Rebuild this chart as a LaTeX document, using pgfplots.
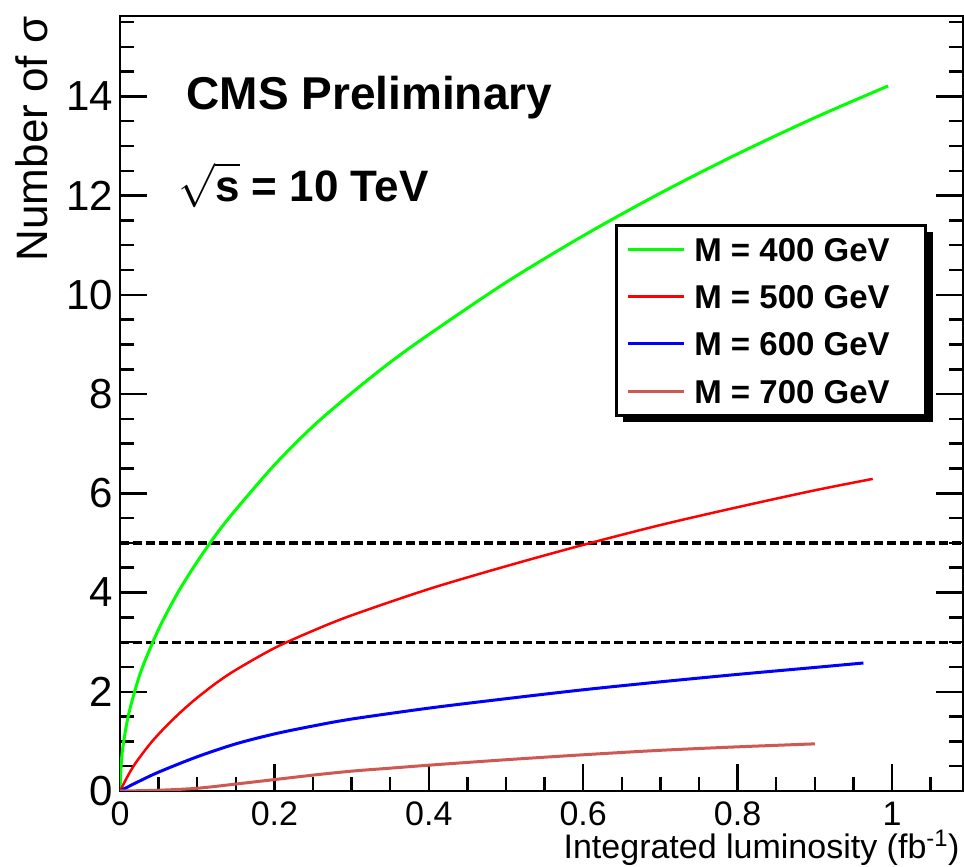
\RequirePackage{fix-cm}
\documentclass[border=0pt]{standalone}
\usepackage{fontspec}
\setmainfont{Liberation Sans}
\usepackage{pgfplots}
\pgfplotsset{compat=1.18}
\usetikzlibrary{shadows}
\makeatletter
\tikzset{no preactions/.code={\let\tikz@preactions\pgfutil@empty}}
\makeatother
\definecolor{cgreen}{RGB}{0,255,0}
\definecolor{cred}{RGB}{255,0,0}
\definecolor{cblue}{RGB}{0,0,255}
\definecolor{cbrown}{RGB}{208,88,84}
\begin{document}
\begin{tikzpicture}
\useasboundingbox (-120pt,-76pt) rectangle (844pt,791pt);
\begin{axis}[
  at={(0pt,0pt)}, anchor=south west,
  scale only axis, width=843pt, height=775pt,
  xmin=0, xmax=1.092, ymin=0, ymax=15.62,
  xtick={0,0.2,0.4,0.6,0.8,1},
  minor xtick={0.05,0.1,0.15,0.25,0.3,0.35,0.45,0.5,0.55,0.65,0.7,0.75,0.85,0.9,0.95,1.05},
  ytick={0,2,4,6,8,10,12,14},
  minor ytick={0.5,1,1.5,2.5,3,3.5,4.5,5,5.5,6.5,7,7.5,8.5,9,9.5,10.5,11,11.5,12.5,13,13.5,14.5,15,15.5},
  xtick pos=left, ytick pos=both,
  tick align=inside,
  major tick length=27pt, minor tick length=14pt,
  every tick/.style={black, line width=2.5pt},
  axis line style={line width=2.5pt},
  /pgf/number format/assume math mode=true,
  xticklabel style={font=\fontsize{34}{34}\selectfont, inner sep=0pt, yshift=-11pt},
  yticklabel style={font=\fontsize{42}{42}\selectfont, inner sep=0pt, xshift=-7pt},
  legend style={at={(rel axis cs:0.587,0.732)}, anchor=north west,
    draw=black, line width=3pt, fill=white,
    font=\fontsize{33}{33}\selectfont\bfseries,
    inner xsep=10pt, inner ysep=12pt, row sep=23.3pt,
    nodes={inner sep=0pt, text height=24pt, text depth=0pt},
    general shadow={fill=black, shadow xshift=7pt, shadow yshift=-7pt}},
  legend cell align=left,
  legend image code/.code={\draw[no preactions,#1] (0pt,0pt) -- (56pt,0pt); \path[no preactions] (65pt,0pt);},
]
\addplot[black, line width=3.2pt, dash pattern=on 9pt off 4pt, forget plot] coordinates {(0,5) (1.092,5)};
\addplot[black, line width=3.2pt, dash pattern=on 9pt off 4pt, forget plot] coordinates {(0,3) (1.092,3)};

\addplot[cgreen, line width=3pt, smooth] coordinates {
(0,0) (0.0025,0.73) (0.01,1.46) (0.02,2.06) (0.03,2.53) (0.05,3.26) (0.075,4.0)
(0.1,4.62) (0.125,5.18) (0.15,5.67) (0.2,6.57) (0.25,7.35) (0.3,8.02)
(0.35,8.64) (0.4,9.2) (0.5,10.25) (0.6,11.19) (0.7,12.05) (0.8,12.84)
(0.9,13.57) (0.995,14.21)};
\addlegendentry{M = 400 GeV\hspace*{26pt}}

\addplot[cred, line width=2.5pt, smooth] coordinates {
(0,0) (0.01,0.3) (0.02,0.56) (0.04,0.97) (0.06,1.31) (0.08,1.61) (0.1,1.88)
(0.125,2.18) (0.15,2.44) (0.2,2.88) (0.25,3.23) (0.3,3.54) (0.4,4.07)
(0.5,4.53) (0.6,4.96) (0.7,5.36) (0.8,5.72) (0.9,6.06) (0.975,6.29)};
\addlegendentry{M = 500 GeV\hspace*{26pt}}

\addplot[cblue, line width=3pt, smooth] coordinates {
(0,0) (0.02,0.16) (0.05,0.38) (0.1,0.69) (0.15,0.95) (0.2,1.15) (0.25,1.31)
(0.3,1.45) (0.4,1.67) (0.5,1.86) (0.6,2.04) (0.7,2.2) (0.8,2.35)
(0.9,2.49) (0.963,2.58)};
\addlegendentry{M = 600 GeV\hspace*{26pt}}

\addplot[cbrown, line width=3pt, smooth] coordinates {
(0,0) (0.05,0.015) (0.1,0.055) (0.15,0.14) (0.2,0.23) (0.25,0.32) (0.3,0.4)
(0.35,0.46) (0.4,0.52) (0.5,0.63) (0.6,0.73) (0.7,0.82) (0.8,0.89) (0.9,0.95)};
\addlegendentry{M = 700 GeV\hspace*{26pt}}
\end{axis}
\node[rotate=90, anchor=base east, font=\fontsize{44}{44}\selectfont] at (-72pt,778pt) {Number of σ};
\node[anchor=base east, font=\fontsize{34}{34}\selectfont] at (843pt,-68pt) {Integrated luminosity (fb\textsuperscript{-1})};
\node[anchor=base west, font=\fontsize{46}{46}\selectfont\bfseries] at (63pt,681pt) {CMS Preliminary};
\node[anchor=base west, font=\fontsize{44}{44}\selectfont\bfseries] at (55pt,589pt) {$\sqrt{\vphantom{T}\mbox{s}}$ = 10 TeV};
\end{tikzpicture}
\end{document}
